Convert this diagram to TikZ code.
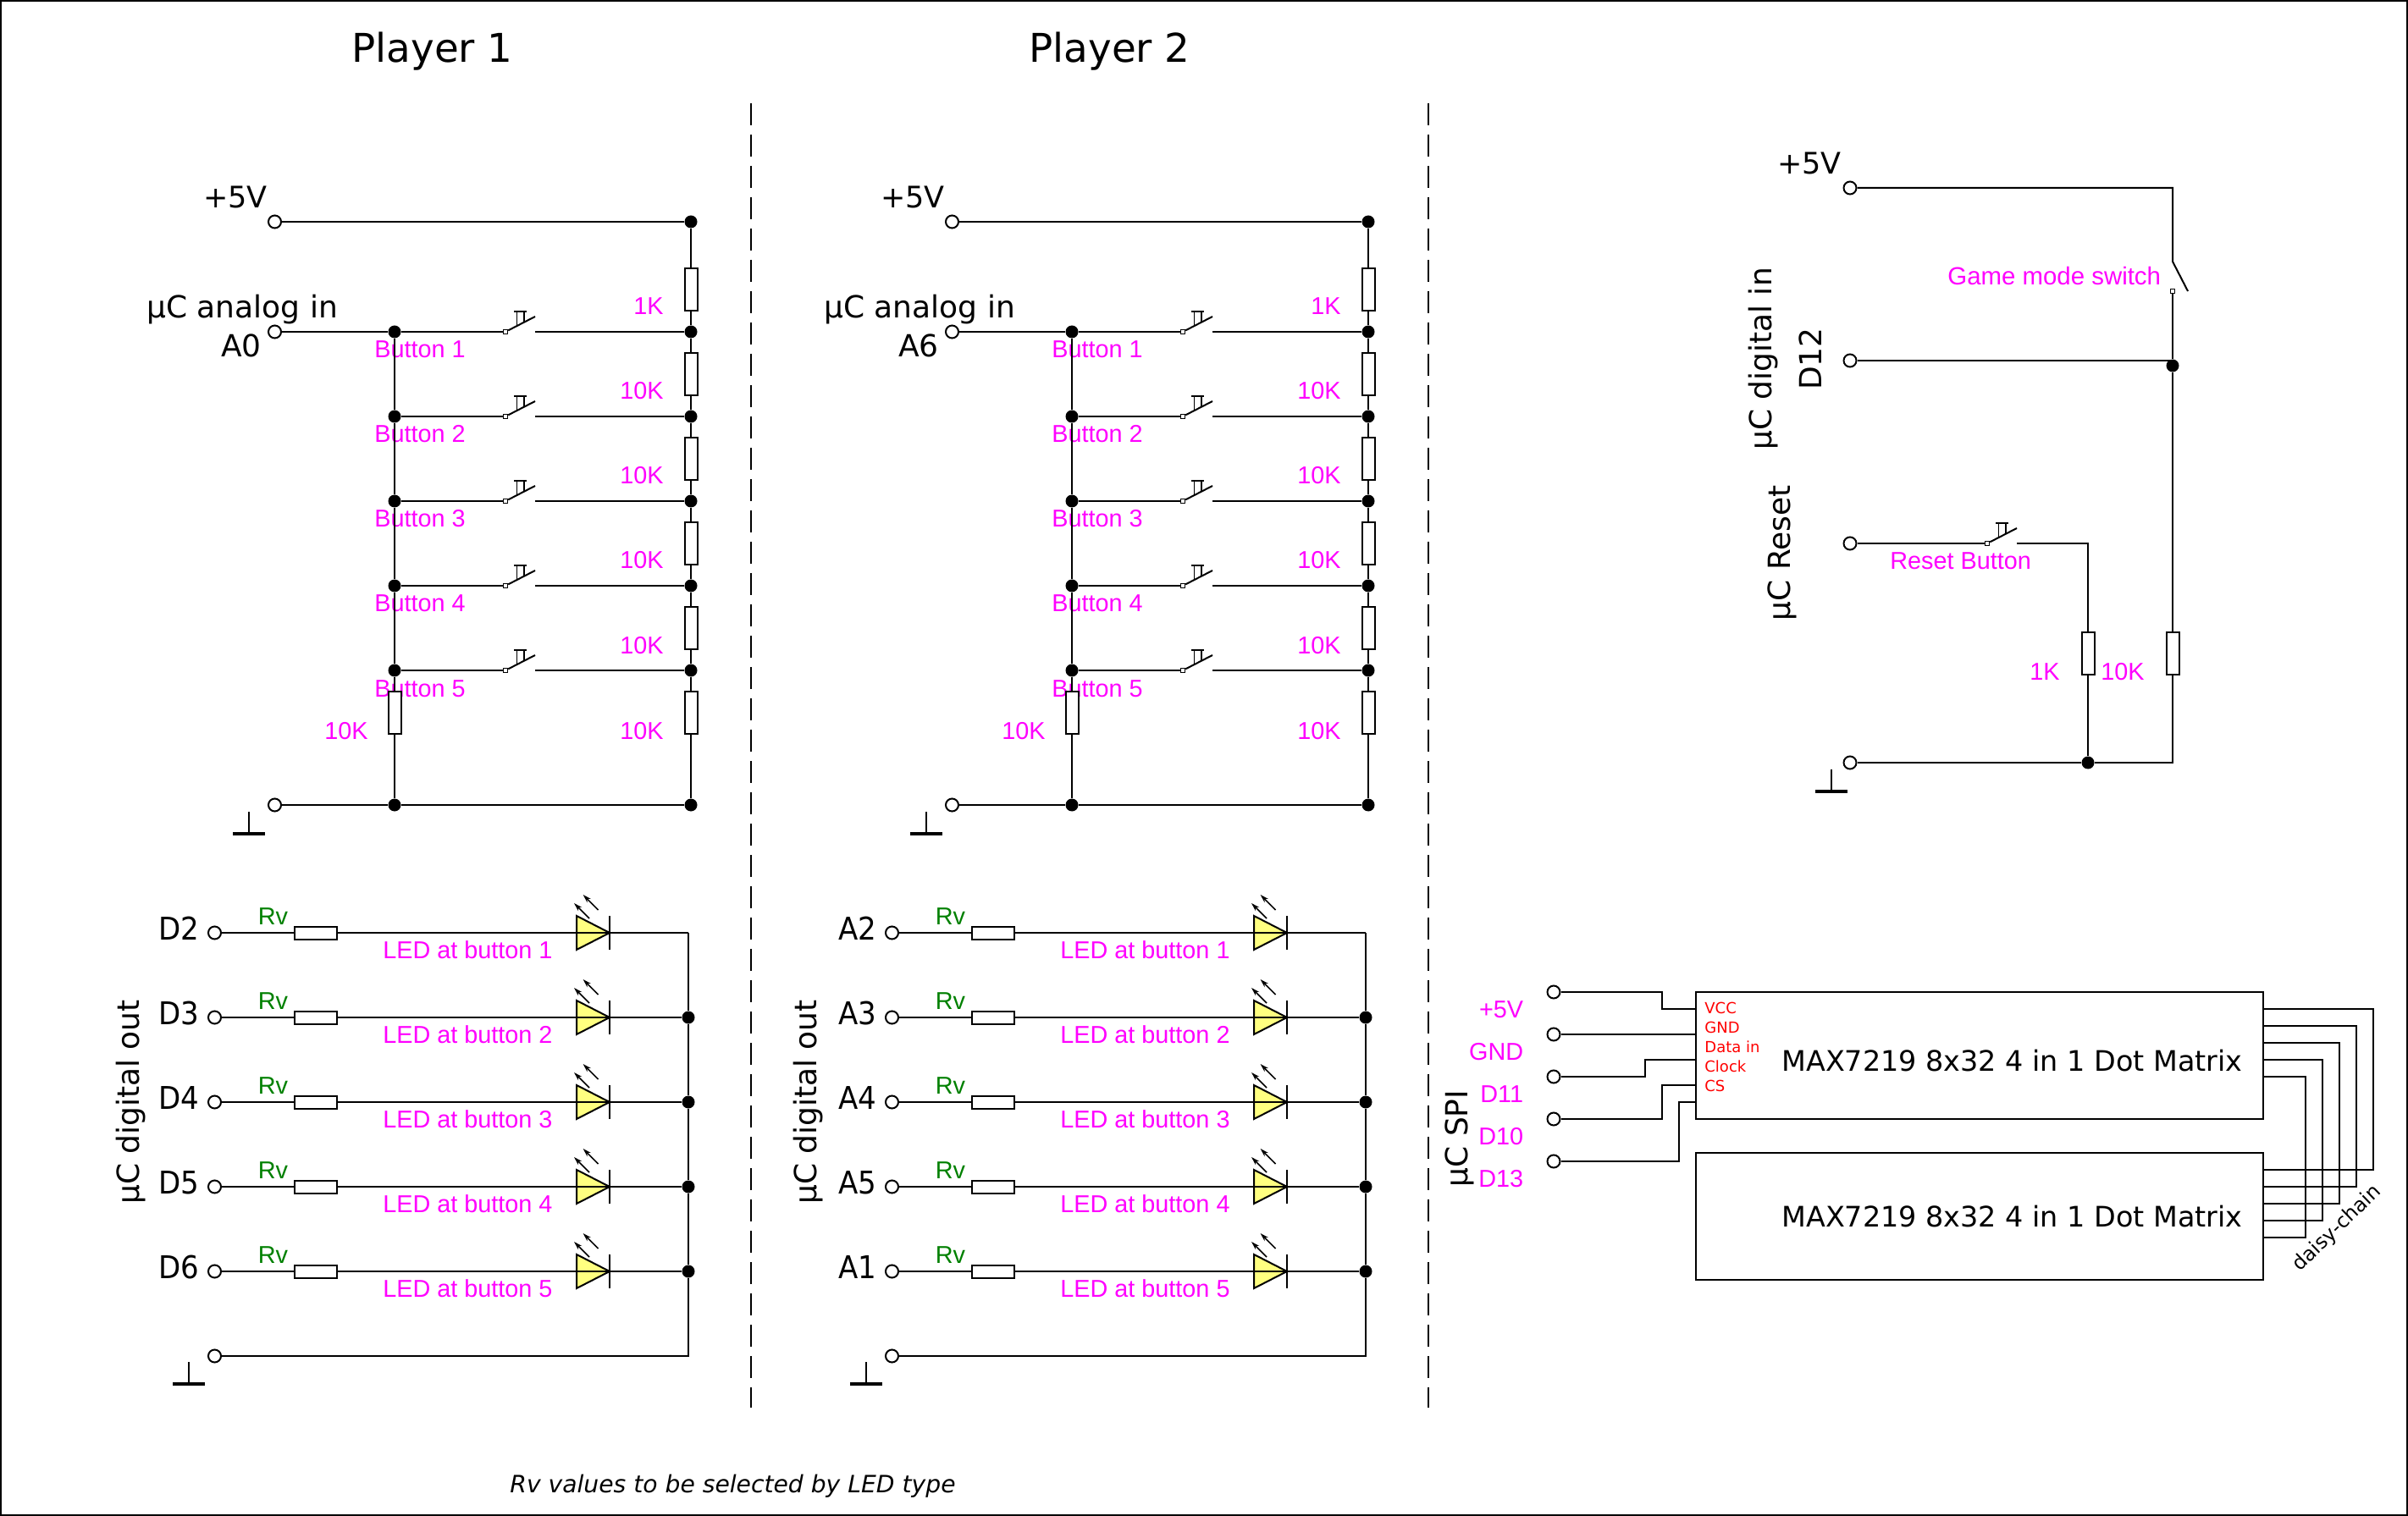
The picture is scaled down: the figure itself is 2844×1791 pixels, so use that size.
\documentclass[tikz,border=0pt]{standalone}
\usepackage{fontspec}
\usetikzlibrary{arrows.meta}
\setmainfont{DejaVu Sans}
\newfontfamily\arialFont{Liberation Sans}
\newfontfamily\narrowFont[FakeStretch=0.92]{DejaVu Sans}
\definecolor{labelPink}{RGB}{255,0,255}
\definecolor{labelGreen}{RGB}{0,128,0}
\definecolor{ledYellow}{RGB}{255,255,128}
\tikzset{
    wire/.style={draw=black, line width=1pt},
    thinWire/.style={draw=black, line width=0.8pt},
    termPin/.style={circle, draw, line width=1pt, fill=white, minimum size=7.5pt, inner sep=0pt},
    joinDot/.style={circle, fill=black, minimum size=7.5pt, inner sep=0pt},
    resBoxV/.style={rectangle, draw, line width=1pt, fill=white, minimum width=7.5pt, minimum height=25pt, inner sep=0pt},
    resBoxH/.style={rectangle, draw, line width=1pt, fill=white, minimum width=25pt, minimum height=7.5pt, inner sep=0pt},
    contactBox/.style={rectangle, draw, line width=0.7pt, fill=white, minimum size=2.5pt, inner sep=0pt},
    matrixBox/.style={rectangle, draw, line width=1pt, minimum width=335pt, minimum height=75pt, inner sep=0pt},
    sepLine/.style={wire, dash pattern=on 13pt off 5.5pt},
    titleText/.style={inner sep=0pt, font=\fontsize{23.4}{25}\selectfont},
    pinText/.style={inner sep=0pt, font=\fontsize{18}{20}\selectfont},
    vccText/.style={inner sep=0pt, font=\fontsize{17.5}{20}\selectfont},
    ledPinText/.style={inner sep=0pt, font=\narrowFont\fontsize{18.5}{20}\selectfont},
    matrixText/.style={inner sep=0pt, font=\fontsize{16.7}{18}\selectfont},
    pinkText/.style={inner sep=0pt, text=labelPink, font=\arialFont\fontsize{14.4}{16}\selectfont},
    greenText/.style={inner sep=0pt, text=labelGreen, font=\arialFont\fontsize{14.4}{16}\selectfont},
    redText/.style={inner sep=0pt, text=red, font=\fontsize{9}{10}\selectfont}
}
\newcommand*{\termPt}[3]{\node[termPin] (#1) at (#2,#3) {};}
\newcommand*{\joinPt}[3]{\node[joinDot] (#1) at (#2,#3) {};}
\newcommand*{\resV}[3]{\node[resBoxV] (#1) at (#2,#3) {};}
\newcommand*{\resH}[3]{\node[resBoxH] (#1) at (#2,#3) {};}
\newcommand*{\pushBtn}[3]{% name, x, y of the contact
    \node[contactBox] (#1-c) at (#2,#3) {};
    \coordinate (#1-e) at (#2+35,#3-18);
    \coordinate (#1-o) at (#2+35,#3);
    \draw[wire] (#1-c) -- (#1-e);
    \draw[thinWire] (#2+10,#3-24) -- (#2+25,#3-24);
    \draw[thinWire] (#2+13.5,#3-24) -- (#2+13.5,#3-7);
    \draw[thinWire] (#2+22,#3-24) -- (#2+22,#3-11);
}
\newcommand*{\ledSym}[3]{% name, x of the triangle, y
    \coordinate (#1-k) at (#2+39,#3);
    \draw[wire, fill=ledYellow] (#2,#3-20) -- (#2+39,#3) -- (#2,#3+20) -- cycle;
    \draw[wire] (#2+39,#3-20) -- (#2+39,#3+20);
    \draw[thinWire, -{Stealth[length=5pt,width=3pt]}] (#2+15,#3-17) -- (#2-3,#3-35);
    \draw[thinWire, -{Stealth[length=5pt,width=3pt]}] (#2+25.6,#3-27) -- (#2+7.6,#3-45);
}
\newcommand*{\groundSym}[3]{% name, x, y of the stem top
    \coordinate (#1-a) at (#2,#3);
    \coordinate (#1-b) at (#2,#3+26);
    \coordinate (#1-l) at (#2-19,#3+26);
    \coordinate (#1-r) at (#2+19,#3+26);
    \draw[wire] (#1-a) -- (#1-b);
    \draw[wire, line width=2pt] (#1-l) -- (#1-r);
}
\newcommand*{\playerPanel}[5]{% prefix, x offset, title, analog pin, LED pins
\begin{scope}[shift={(#2,0)}]
    \node[titleText, anchor=base west] (#1title) at (415,74) {#3};
    \node[vccText, anchor=base east] (#1vcctxt) at (316,246) {+5V};
    \node[pinText, anchor=base west] (#1aintxt) at (173,376) {µC analog in};
    \node[pinText, anchor=base east] (#1pintxt) at (309,422) {#4};
    \node[pinkText, anchor=base east] (#1leftval) at (435,873) {10K};
    \node[pinkText, anchor=base east] (#1val6) at (784,873) {10K};
    \node[pinText, rotate=90, anchor=base] (#1dotxt) at (164,1302) {µC digital out};
    \termPt{#1vcc}{324.5}{262}
    \termPt{#1ain}{324.5}{392}
    \termPt{#1gnd}{324.5}{951}
    \joinPt{#1r0}{816}{262}
    \draw[wire] (#1vcc) -- (#1r0);
    \foreach \i/\j/\val in {1/0/1K,2/1/10K,3/2/10K,4/3/10K,5/4/10K} {
        \pgfmathtruncatemacro{\yy}{292+100*\i}
        \node[pinkText, anchor=base east] (#1val\i) at (784,\yy-20) {\val};
        \node[pinkText, anchor=base west] (#1btn\i) at (442,\yy+31) {Button \i};
        \joinPt{#1r\i}{816}{\yy}
        \joinPt{#1l\i}{466}{\yy}
        \resV{#1res\i}{816}{\yy-50}
        \pushBtn{#1sw\i}{597}{\yy}
        \draw[wire] (#1r\j) -- (#1res\i) -- (#1r\i);
        \draw[wire] (#1l\i) -- (#1sw\i-c);
        \draw[wire] (#1sw\i-o) -- (#1r\i);
    }
    \foreach \i/\j in {2/1,3/2,4/3,5/4}
        \draw[wire] (#1l\j) -- (#1l\i);
    \draw[wire] (#1ain) -- (#1l1);
    \resV{#1res6}{816}{842}
    \resV{#1resl}{466}{842}
    \joinPt{#1r6}{816}{951}
    \joinPt{#1lb}{466}{951}
    \draw[wire] (#1r5) -- (#1res6) -- (#1r6);
    \draw[wire] (#1l5) -- (#1resl) -- (#1lb);
    \draw[wire] (#1gnd) -- (#1lb) -- (#1r6);
    \groundSym{#1gs}{294}{959}
    % LED rows
    \coordinate (#1e1) at (813,1102);
    \coordinate (#1ec) at (813,1602);
    \foreach \i in {2,...,5} {
        \pgfmathtruncatemacro{\yy}{1002+100*\i}
        \joinPt{#1e\i}{813}{\yy}
    }
    \foreach \i/\pin in {#5} {
        \pgfmathtruncatemacro{\yy}{1002+100*\i}
        \node[ledPinText, anchor=base east] (#1pin\i) at (235.5,\yy+8) {\pin};
        \node[greenText, anchor=base west] (#1rvt\i) at (304.5,\yy-10) {Rv};
        \node[pinkText, anchor=base west] (#1led\i) at (452,\yy+30) {LED at button \i};
        \termPt{#1t\i}{253.5}{\yy}
        \resH{#1rv\i}{373}{\yy}
        \ledSym{#1d\i}{681}{\yy}
        \draw[wire] (#1t\i) -- (#1rv\i) -- (#1d\i-k) -- (#1e\i);
    }
    \termPt{#1lgnd}{253.5}{1602}
    \draw[wire] (#1e1) -- (#1e2) -- (#1e3) -- (#1e4) -- (#1e5) -- (#1ec) -- (#1lgnd);
    \groundSym{#1lgs}{223}{1609}
\end{scope}
}

\begin{document}
\begin{tikzpicture}[x=0.5pt, y=-0.5pt] {
\useasboundingbox (0,0) rectangle (2844,1791);
\draw[wire] (1,1) rectangle (2843,1790);
\coordinate (sepAtop) at (887,122);
\coordinate (sepAbot) at (887,1663);
\coordinate (sepBtop) at (1687,122);
\coordinate (sepBbot) at (1687,1663);
\draw[sepLine] (sepAtop) -- (sepAbot);
\draw[sepLine] (sepBtop) -- (sepBbot);
\playerPanel{pa}{0}{Player 1}{A0}{1/D2,2/D3,3/D4,4/D5,5/D6}
\playerPanel{pb}{800}{Player 2}{A6}{1/A2,2/A3,3/A4,4/A5,5/A1}
% game mode and reset
\node[vccText, anchor=base east] (mvcctxt) at (2175,206) {+5V};
\node[pinkText, anchor=base west, font=\arialFont\fontsize{14.7}{16}\selectfont] (modetxt) at (2300,337) {Game mode switch};
\node[pinkText, anchor=base west] (resettxt) at (2232,673) {Reset Button};
\node[pinkText, anchor=base west] (val1k) at (2397,803) {1K};
\node[pinkText, anchor=base west] (val10k) at (2481,803) {10K};
\node[pinText, rotate=90, anchor=base] (digtxt) at (2092,424) {µC digital in};
\node[pinText, rotate=90, anchor=base] (d12txt) at (2151,424) {D12};
\node[pinText, rotate=90, anchor=base] (rsttxt) at (2114,653) {µC Reset};
\termPt{mvcc}{2185}{222}
\termPt{md12}{2185}{426}
\termPt{mrst}{2185}{642}
\termPt{mgnd}{2185}{901}
\coordinate (mcorner) at (2566,222);
\coordinate (mblade) at (2566,309);
\coordinate (mbladeend) at (2584,344);
\node[contactBox] (mcontact) at (2566,344) {};
\joinPt{mjoin}{2566}{432}
\joinPt{mbot}{2466}{901}
\coordinate (mbotr) at (2566,901);
\coordinate (mjoinin) at (2566,426);
\coordinate (mrstcorner) at (2466,642);
\resV{mres1k}{2466}{772}
\resV{mres10k}{2566}{772}
\pushBtn{mbtn}{2347}{642}
\draw[wire] (mvcc) -- (mcorner) -- (mblade) -- (mbladeend);
\draw[wire] (mcontact) -- (mjoin) -- (mres10k) -- (mbotr) -- (mbot) -- (mgnd);
\draw[wire] (md12) -- (mjoinin);
\draw[wire] (mrst) -- (mbtn-c);
\draw[wire] (mbtn-o) -- (mrstcorner) -- (mres1k) -- (mbot);
\groundSym{mgs}{2163}{909}
% dot matrix
\node[pinText, rotate=90, anchor=base] (spitxt) at (1733,1345) {µC SPI};
\foreach \i/\yy/\txt in {1/1202/+5V,2/1252/GND,3/1302/D11,4/1352/D10,5/1402/D13}
    \node[pinkText, anchor=base east] (spi\i) at (1799.5,\yy) {\txt};
\foreach \i/\yy/\txt in {1/1197/VCC,2/1220/GND,3/1243/Data in,4/1266/Clock,5/1289/CS}
    \node[redText, anchor=base west] (pinl\i) at (2013,\yy) {\txt};
\node[matrixBox] (mxa) at (2338,1247) {};
\node[matrixBox] (mxb) at (2338,1437) {};
\node[matrixText, anchor=base west] (mxatxt) at (2104,1265) {MAX7219 8x32 4 in 1 Dot Matrix};
\node[matrixText, anchor=base west] (mxbtxt) at (2104,1449) {MAX7219 8x32 4 in 1 Dot Matrix};
\foreach \i/\yy in {1/1172,2/1222,3/1272,4/1322,5/1372}
    \termPt{mt\i}{1835}{\yy}
\foreach \i/\yy in {1/1192,2/1222,3/1252,4/1282,5/1302}
    \coordinate (mp\i) at (2003,\yy);
\draw[wire] (mt1) -| (1963,1192) -- (mp1);
\draw[wire] (mt2) -- (mp2);
\draw[wire] (mt3) -| (1943,1252) -- (mp3);
\draw[wire] (mt4) -| (1963,1282) -- (mp4);
\draw[wire] (mt5) -| (1983,1302) -- (mp5);
% daisy chain
\foreach \i/\xx/\ya/\yb in {1/2803/1192/1382,2/2783/1212/1402,3/2763/1232/1422,4/2743/1252/1442,5/2723/1272/1462} {
    \coordinate (dca\i) at (2673,\ya);
    \coordinate (dcb\i) at (2673,\yb);
    \draw[wire] (dca\i) -| (\xx,\yb) -- (dcb\i);
}
\node[inner sep=0pt, rotate=44, anchor=base, font=\fontsize{11.8}{14}\selectfont] (daisytxt) at (2765,1456) {daisy-chain};
\node[inner sep=0pt, anchor=base west, font=\itshape\fontsize{14.1}{16}\selectfont] (notetxt) at (602,1763) {Rv values to be selected by LED type};
}\end{tikzpicture}
\end{document}
